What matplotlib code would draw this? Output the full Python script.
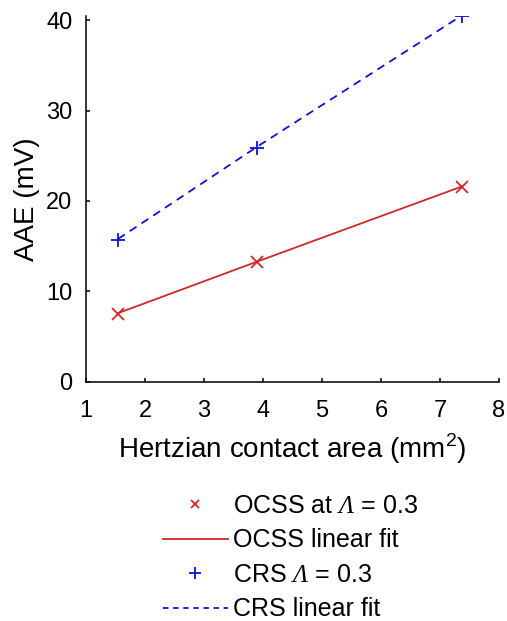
import matplotlib.pyplot as plt
from matplotlib.lines import Line2D

plt.rcParams['font.family'] = ['Liberation Sans', 'DejaVu Sans']
plt.rcParams['mathtext.fontset'] = 'custom'
plt.rcParams['mathtext.rm'] = 'Liberation Sans'
# italic serif Lambda (mathit forces Greek capitals upright, so go via sf)
plt.rcParams['mathtext.sf'] = 'Liberation Serif:italic'

# Data
area = [1.54, 3.90, 7.37]
ocss = [7.5, 13.2, 21.5]
crs = [15.7, 25.9, 40.4]
ocss_fit = [7.6, 13.3, 21.6]
crs_fit = [15.8, 26.0, 40.5]

fig = plt.figure(figsize=(5.07, 6.21), dpi=100)
ax = fig.add_axes([0.170, 0.385, 0.814, 0.590])

red = '#d02828'
blue = '#1010d8'

ax.plot(area, ocss_fit, '-', color=red, lw=1.3)
ax.plot(area, ocss, 'x', color=red, ms=8, mew=1.3)
ax.plot(area, crs_fit, '--', color=blue, lw=1.3, dashes=(4.5, 3.3))
ax.plot(area, crs, '+', color=blue, ms=10, mew=1.3)

ax.set_xlim(1, 8)
ax.set_ylim(0, 40.5)
ax.set_xticks(range(1, 9))
ax.set_yticks([0, 10, 20, 30, 40])
ax.tick_params(direction='in', labelsize=17, length=3, width=1.1)
ax.tick_params(axis='x', pad=13)
ax.tick_params(axis='y', pad=10)
for s in ['top', 'right']:
    ax.spines[s].set_visible(False)
for s in ['left', 'bottom']:
    ax.spines[s].set_linewidth(1.1)

ax.set_xlabel('Hertzian contact area (mm$^2$)', fontsize=20, labelpad=7)
ax.set_ylabel('AAE (mV)', fontsize=20, labelpad=4)

handles = [
    Line2D([], [], ls='none', marker='x', color=red, ms=6, mew=1.3),
    Line2D([], [], ls='-', color=red, lw=1.3),
    Line2D([], [], ls='none', marker='+', color=blue, ms=8, mew=1.3),
    Line2D([], [], ls='--', color=blue, lw=1.3, dashes=(3, 2.6)),
]
labels = [r'OCSS at $\mathsf{\Lambda}$ = 0.3', 'OCSS linear fit',
          r'CRS $\mathsf{\Lambda}$ = 0.3', 'CRS linear fit']
fig.legend(handles, labels, loc='center', bbox_to_anchor=(0.572, 0.102),
           frameon=False, fontsize=18, handlelength=2.6, handletextpad=0.2,
           labelspacing=0.42)

fig.savefig('out.png', dpi=100)
